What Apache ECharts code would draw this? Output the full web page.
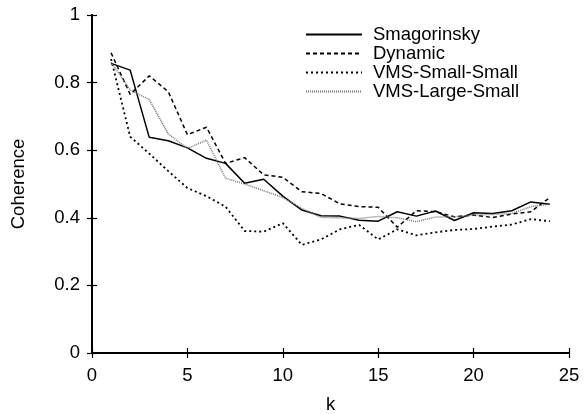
<!DOCTYPE html>
<html>
<head>
<meta charset="utf-8">
<script src="https://cdn.jsdelivr.net/npm/echarts@6/dist/echarts.min.js"></script>
<style>html,body{margin:0;padding:0;background:#fff}#c{width:584px;height:414px}</style>
</head>
<body>
<div id="c"></div>
<script>
var k = [1,2,3,4,5,6,7,8,9,10,11,12,13,14,15,16,17,18,19,20,21,22,23,24];
var smagorinsky = [0.857,0.837,0.638,0.628,0.607,0.576,0.561,0.502,0.514,0.464,0.423,0.406,0.405,0.393,0.390,0.418,0.405,0.420,0.392,0.415,0.413,0.421,0.447,0.440];
var dynamic = [0.888,0.765,0.820,0.773,0.646,0.668,0.561,0.578,0.527,0.520,0.477,0.472,0.441,0.433,0.431,0.372,0.421,0.418,0.403,0.408,0.401,0.411,0.418,0.460];
var vmsSmallSmall = [0.870,0.640,0.590,0.538,0.488,0.464,0.433,0.361,0.359,0.384,0.320,0.336,0.366,0.379,0.336,0.366,0.348,0.357,0.364,0.367,0.374,0.380,0.396,0.390];
var vmsLargeSmall = [0.860,0.778,0.750,0.648,0.605,0.630,0.517,0.500,0.480,0.460,0.428,0.401,0.400,0.398,0.404,0.400,0.389,0.402,0.403,0.408,0.410,0.413,0.433,0.440];
var names = ['Smagorinsky','Dynamic','VMS-Small-Small','VMS-Large-Small'];

function pairs(arr){ return arr.map(function(v,i){ return [k[i], v]; }); }

var font = 'Liberation Sans, Arial, Helvetica, sans-serif';
var fs = 18.5;
var chart = echarts.init(document.getElementById('c'), null, {renderer:'canvas'});
var axisLine = {show:true, lineStyle:{color:'#000', width:2}};
var tickIn = {show:true, inside:true, length:5, lineStyle:{color:'#000', width:1.2}};
chart.setOption({
  animation:false,
  backgroundColor:'#fff',
  grid:{left:92, right:15, top:15, bottom:61, containLabel:false, outerBoundsMode:'none'},
  legend:{
    orient:'vertical', left:300, top:20, itemWidth:56, itemHeight:12, itemGap:0,
    data:names.map(function(n){ return {name:n, itemStyle:{opacity:0}}; }),
    textStyle:{fontFamily:font, fontSize:fs, lineHeight:19, color:'#000', padding:[0,0,0,6]}
  },
  xAxis:[{
    type:'value', min:0, max:25, interval:5, position:'bottom',
    name:'k', nameLocation:'middle', nameGap:42,
    nameTextStyle:{fontFamily:font, fontSize:fs, color:'#000'},
    axisLine:axisLine, axisTick:tickIn, splitLine:{show:false},
    axisLabel:{fontFamily:font, fontSize:fs, color:'#000', margin:13}
  },{
    type:'value', min:0, max:25, interval:5, position:'top',
    axisLine:axisLine, axisTick:tickIn, splitLine:{show:false}, axisLabel:{show:false}
  }],
  yAxis:[{
    type:'value', min:0, max:1, interval:0.2, position:'left',
    name:'Coherence', nameLocation:'middle', nameGap:64, nameRotate:90,
    nameTextStyle:{fontFamily:font, fontSize:fs, color:'#000'},
    axisLine:axisLine, axisTick:tickIn, splitLine:{show:false},
    axisLabel:{fontFamily:font, fontSize:fs, color:'#000', margin:12,
      formatter:function(v){ return String(Math.round(v*10)/10); }}
  },{
    type:'value', min:0, max:1, interval:0.2, position:'right',
    axisLine:axisLine, axisTick:tickIn, splitLine:{show:false}, axisLabel:{show:false}
  }],
  series:[
    {name:names[0], type:'line', data:pairs(smagorinsky), symbol:'none', showSymbol:false, color:'#000',
     lineStyle:{color:'#000', width:1.5, type:'solid'}},
    {name:names[1], type:'line', data:pairs(dynamic), symbol:'none', showSymbol:false, color:'#000',
     lineStyle:{color:'#000', width:1.5, type:[4,3]}},
    {name:names[2], type:'line', data:pairs(vmsSmallSmall), symbol:'none', showSymbol:false, color:'#000',
     lineStyle:{color:'#000', width:1.8, type:[2,3]}},
    {name:names[3], type:'line', data:pairs(vmsLargeSmall), symbol:'none', showSymbol:false, color:'#777',
     lineStyle:{color:'#777', width:1.5, type:[1,1]}}
  ]
});
</script>
</body>
</html>
